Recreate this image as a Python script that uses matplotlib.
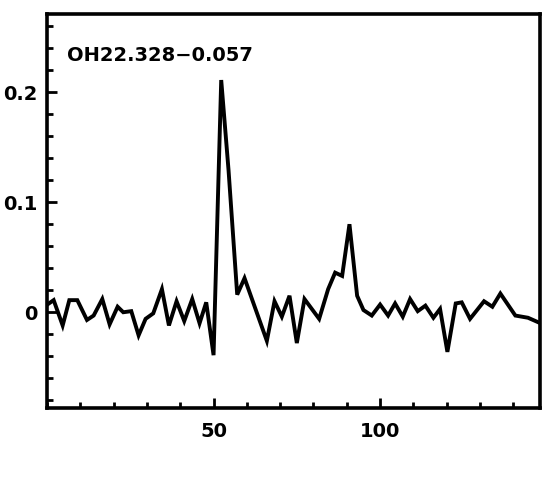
import matplotlib
matplotlib.use("Agg")
import matplotlib.pyplot as plt
from matplotlib.ticker import MultipleLocator

# Spectrum vertices
velocity = [0.1, 2.0, 4.7, 6.7, 9.1, 12.0, 14.0, 16.6, 18.8, 21.2, 22.9, 25.3,
            27.5, 29.6, 31.9, 34.5, 36.6, 38.9, 41.2, 43.6, 45.8, 47.8, 50.0,
            52.3, 54.5, 57.1, 59.3, 62.0, 66.0, 68.3, 70.5, 72.8, 75.0, 77.3,
            81.7, 84.4, 86.5, 88.6, 90.8, 93.1, 95.0, 97.5, 100.0, 102.4, 104.5,
            106.8, 109.0, 111.3, 113.6, 116.0, 118.0, 120.2, 122.7, 124.5, 127.0,
            131.2, 133.7, 136.1, 140.6, 144.4, 147.4]
flux = [0.007, 0.011, -0.012, 0.011, 0.011, -0.007, -0.003, 0.012, -0.011, 0.005,
        0.000, 0.001, -0.021, -0.006, -0.001, 0.021, -0.012, 0.010, -0.008, 0.012,
        -0.010, 0.009, -0.039, 0.211, 0.129, 0.016, 0.031, 0.008, -0.026, 0.010,
        -0.004, 0.015, -0.028, 0.012, -0.006, 0.021, 0.036, 0.033, 0.080, 0.015,
        0.002, -0.003, 0.007, -0.003, 0.008, -0.004, 0.012, 0.001, 0.006, -0.005,
        0.003, -0.036, 0.008, 0.009, -0.006, 0.010, 0.005, 0.017, -0.003, -0.005,
        -0.009]
source_name = "OH22.328\u22120.057"
xticks = [50, 100]
xticklabels = ["50", "100"]
yticks = [0.0, 0.1, 0.2]
yticklabels = ["0", "0.1", "0.2"]

FAMILY = ["DejaVu Sans"]

fig = plt.figure(figsize=(5.53, 4.78), dpi=100)
ax = fig.add_axes([47 / 553, 1 - 408 / 478, 493 / 553, 394 / 478])

ax.plot(velocity, flux, color="black", linewidth=2.8, solid_joinstyle="miter")

ax.set_xlim(0, 148)
ax.set_ylim(-0.087, 0.271)

ax.set_xticks(xticks)
ax.set_xticklabels(xticklabels)
ax.set_yticks(yticks)
ax.set_yticklabels(yticklabels)
ax.xaxis.set_minor_locator(MultipleLocator(10))
ax.yaxis.set_minor_locator(MultipleLocator(0.02))

for lab in ax.get_xticklabels() + ax.get_yticklabels():
    lab.set_fontfamily(FAMILY)
    lab.set_fontweight("bold")
    lab.set_fontsize(14)

ax.tick_params(which="both", direction="in", top=False, right=False, color="black")
ax.tick_params(which="major", length=7, width=2)
ax.tick_params(which="minor", length=4, width=2)
ax.tick_params(axis="x", which="major", pad=10)
ax.tick_params(axis="y", which="major", pad=7)

for sp in ax.spines.values():
    sp.set_linewidth(2.6)
    sp.set_color("black")

ax.text(0.04, 0.881, source_name, transform=ax.transAxes, ha="left", va="baseline",
        fontfamily=FAMILY, fontweight="bold", fontsize=14)

fig.savefig("out.png", dpi=100)
